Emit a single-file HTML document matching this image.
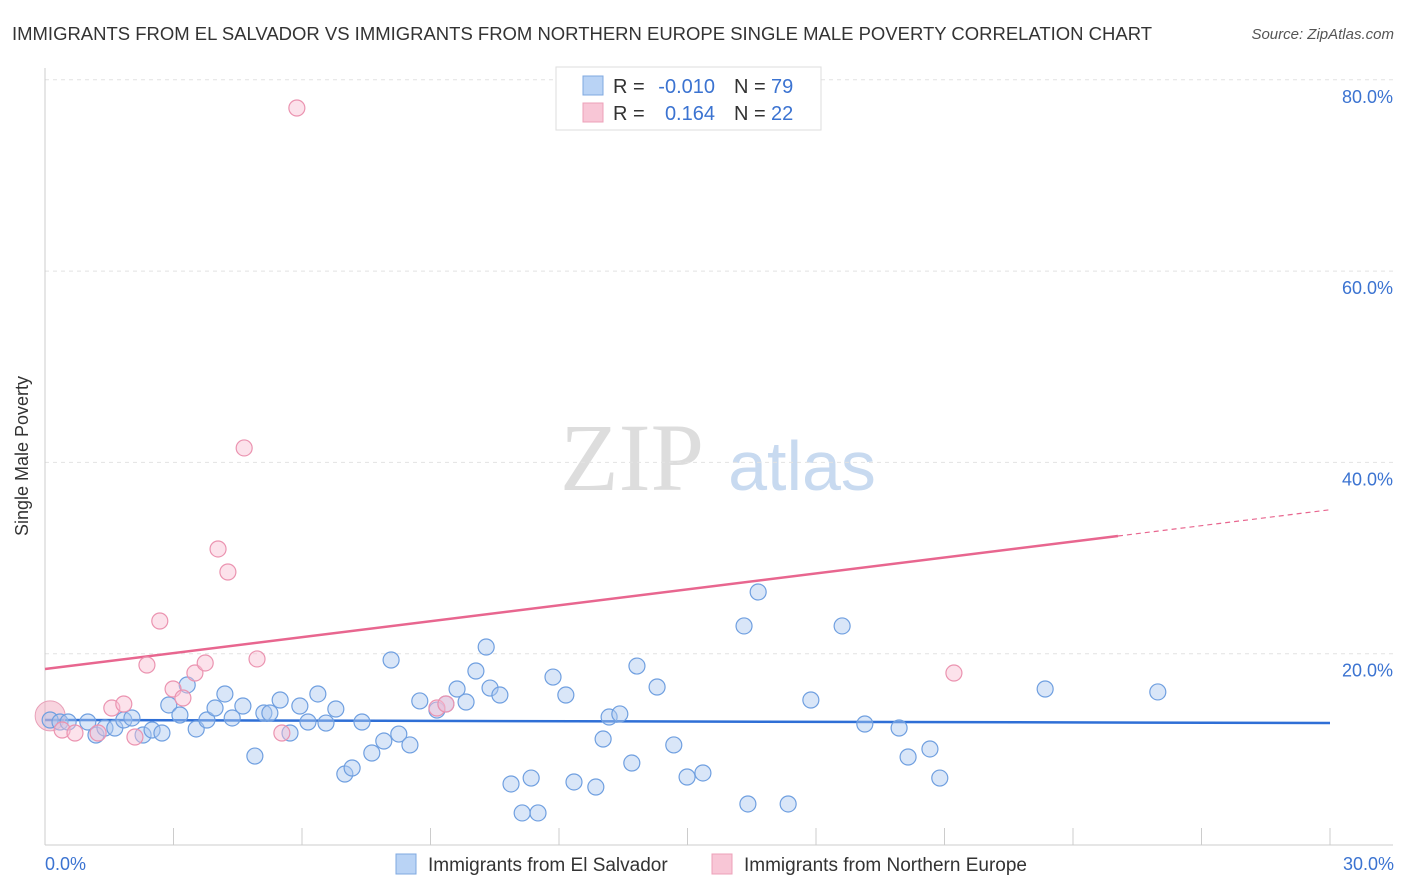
<!DOCTYPE html>
<html><head><meta charset="utf-8"><style>
body{margin:0;background:#fff;font-family:"Liberation Sans",sans-serif;}
svg{display:block}
</style></head><body>
<svg id="chart" width="1406" height="892">
<text x="12" y="40" font-size="18" fill="#333" textLength="1140" lengthAdjust="spacingAndGlyphs">IMMIGRANTS FROM EL SALVADOR VS IMMIGRANTS FROM NORTHERN EUROPE SINGLE MALE POVERTY CORRELATION CHART</text>
<text x="1394" y="39" font-size="15" fill="#555" font-style="italic" text-anchor="end">Source: ZipAtlas.com</text>
<g>
<text x="632" y="490" font-size="96" font-family="Liberation Serif" fill="#ddd" text-anchor="middle">ZIP</text>
<text x="802" y="490" font-size="70" fill="#c8daf0" text-anchor="middle">atlas</text>
</g>
<g id="grid"></g>
<g id="axes"></g>
<g id="lines"></g>
<g id="pts"></g>
<text x="28" y="456" font-size="18" fill="#333" text-anchor="middle" transform="rotate(-90 28 456)">Single Male Poverty</text>
<text x="45" y="870" font-size="18" fill="#3b73d1">0.0%</text>
<text x="1394" y="870" font-size="18" fill="#3b73d1" text-anchor="end">30.0%</text>
<g>
<rect x="556" y="67" width="265" height="63" fill="#fff" stroke="#ddd"/>
<rect x="583" y="76" width="20" height="19" fill="#b9d3f5" stroke="#7fa8e0"/>
<rect x="583" y="103" width="20" height="19" fill="#f8c6d6" stroke="#eda0b8"/>
<text x="613" y="93" font-size="20" fill="#333">R =</text>
<text x="715" y="93" font-size="20" fill="#3b73d1" text-anchor="end">-0.010</text>
<text x="734" y="93" font-size="20" fill="#333">N =</text>
<text x="771" y="93" font-size="20" fill="#3b73d1">79</text>
<text x="613" y="120" font-size="20" fill="#333">R =</text>
<text x="715" y="120" font-size="20" fill="#3b73d1" text-anchor="end">0.164</text>
<text x="734" y="120" font-size="20" fill="#333">N =</text>
<text x="771" y="120" font-size="20" fill="#3b73d1">22</text>
</g>
<g>
<rect x="396" y="854" width="20" height="20" fill="#b9d3f5" stroke="#7fa8e0"/>
<text x="428" y="871" font-size="19" fill="#333">Immigrants from El Salvador</text>
<rect x="712" y="854" width="20" height="20" fill="#f8c6d6" stroke="#eda0b8"/>
<text x="744" y="871" font-size="19" fill="#333">Immigrants from Northern Europe</text>
</g>
</svg>
<script>
const yTicks=[20,40,60,80];
const xTickCount=10;
const blueX=[0.12,0.35,0.54,1.0,1.19,1.4,1.63,1.84,2.03,2.29,2.5,2.73,2.89,3.15,3.32,3.53,3.78,3.97,4.2,4.37,4.62,4.9,5.11,5.25,5.49,5.72,5.95,6.14,6.37,6.56,6.79,7.0,7.17,7.4,7.63,7.91,8.08,8.26,8.52,8.75,9.15,9.36,9.62,9.83,10.06,10.3,10.39,10.62,10.88,11.14,11.35,11.51,11.86,12.16,12.35,12.86,13.03,13.17,13.42,13.7,13.82,14.29,14.68,14.99,15.36,16.32,16.41,16.65,17.35,17.88,18.61,19.14,19.94,20.15,20.66,20.89,23.35,25.98];
const blueY=[13.07,12.86,12.86,12.86,11.5,12.23,12.23,13.07,13.28,11.5,12.02,11.71,14.64,13.59,16.73,12.13,13.07,14.32,15.79,13.28,14.53,9.3,13.8,13.8,15.16,11.71,14.53,12.86,15.79,12.75,14.22,7.42,8.05,12.86,9.62,10.87,19.34,11.6,10.46,15.06,14.11,14.74,16.31,14.95,18.19,20.7,16.41,15.68,6.38,3.35,7.0,3.35,17.56,15.68,6.59,6.06,11.08,13.38,13.7,8.57,18.71,16.52,10.46,7.11,7.53,22.9,4.29,26.45,4.29,15.16,22.9,12.65,12.23,9.2,10.04,7.0,16.31,16.0];
const pinkX=[0.4,0.7,1.24,1.56,1.84,2.1,2.38,2.68,2.99,3.22,3.5,3.74,4.04,4.27,4.65,4.95,5.53,5.88,9.15,9.36,21.22];
const pinkY=[12.02,11.71,11.71,14.32,14.74,11.29,18.82,23.42,16.31,15.37,17.98,19.03,30.95,28.54,41.51,19.45,11.71,77.05,14.32,14.74,17.98];
const bigPoint=[0.12,13.5];
const blueTrend=[13.07,12.75];
const pinkTrend=[18.4,35.05];
const pinkSolidEnd=25.05;
const NS="http://www.w3.org/2000/svg";
const X=v=>45+v/30*1285;
const Y=v=>845-v/20*191.3;
function mk(p,tag,a){const e=document.createElementNS(NS,tag);for(const k in a)e.setAttribute(k,a[k]);document.getElementById(p).appendChild(e);return e;}
yTicks.forEach(t=>{
 const l=mk('grid','line',{x1:45,x2:1393,y1:Y(t),y2:Y(t),stroke:'#e2e2e2','stroke-dasharray':'4,4'});
 
 
 const tx=mk('grid','text',{x:1393,y:Y(t)+23,'font-size':18,fill:'#3b73d1','text-anchor':'end'});
 tx.textContent=t.toFixed(1)+'%';
 
 
});
const ax=mk('axes','line',{x1:45,x2:1393,y1:845,y2:845,stroke:'#ccc'});


const ay=mk('axes','line',{x1:45,x2:45,y1:68,y2:845,stroke:'#ccc'});


for(let i=1;i<=xTickCount;i++){
 const t=mk('axes','line',{x1:X(i*3),x2:X(i*3),y1:828,y2:845,stroke:'#ccc'});
 
 
}
const bl=mk('lines','line',{x1:X(0),x2:X(30),y1:Y(blueTrend[0]),y2:Y(blueTrend[1]),stroke:'#2f6fd6','stroke-width':2.5});


const pAt=x=>pinkTrend[0]+(pinkTrend[1]-pinkTrend[0])*x/30;
const pl=mk('lines','line',{x1:X(0),x2:X(pinkSolidEnd),y1:Y(pinkTrend[0]),y2:Y(pAt(pinkSolidEnd)),stroke:'#e8668f','stroke-width':2.5});


const pd=mk('lines','line',{x1:X(pinkSolidEnd),x2:X(30),y1:Y(pAt(pinkSolidEnd)),y2:Y(pinkTrend[1]),stroke:'#e8668f','stroke-width':1.2,'stroke-dasharray':'5,4'});


const bp=mk('pts','circle',{cx:X(bigPoint[0]),cy:Y(bigPoint[1]),r:15,fill:'rgba(240,160,185,0.45)',stroke:'#e8a0b8'});


blueX.forEach((x,i)=>{
 const c=mk('pts','circle',{cx:X(x),cy:Y(blueY[i]),r:8,fill:'rgba(170,200,240,0.45)',stroke:'#6f9fe0','stroke-width':1.2});
 
 
});
pinkX.forEach((x,i)=>{
 const c=mk('pts','circle',{cx:X(x),cy:Y(pinkY[i]),r:8,fill:'rgba(248,190,210,0.45)',stroke:'#eb93b0','stroke-width':1.2});
 
 
});
</script>
</body></html>
